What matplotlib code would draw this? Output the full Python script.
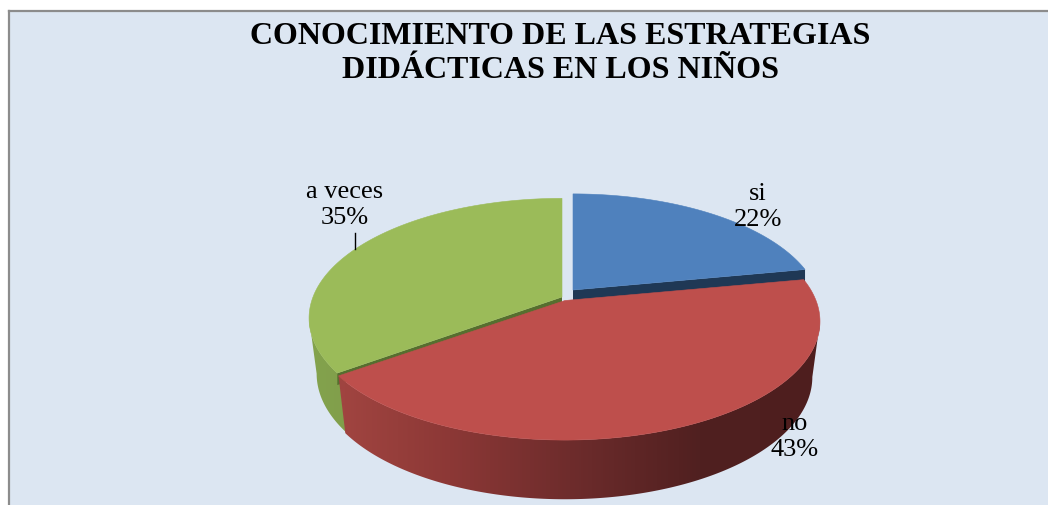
import matplotlib
matplotlib.use('Agg')
import matplotlib.pyplot as plt
from matplotlib.patches import Polygon
import numpy as np

# datos del grafico
categorias = ['si', 'no', 'a veces']
porcentajes = [22, 43, 35]
titulo = 'CONOCIMIENTO DE LAS ESTRATEGIAS\nDIDÁCTICAS EN LOS NIÑOS'

FONDO = '#DCE6F2'
BORDE = '#8C8C8C'
PERSP = 0.176
# angulo donde el borde proyectado llega a su x maxima (la pared se ve desde ahi)
T_EXT = np.arccos(-PERSP)

def punto(t, cx, cy, a, b):
    """Proyecta un angulo del circulo (desde las 12, horario) a pixeles"""
    w = 1 / (1 + PERSP * np.cos(t))
    return cx + a * np.sin(t) * w, cy - b * np.cos(t) * w

def tapa(ax, t0, t1, cx, cy, a, b, color, z):
    t = np.linspace(t0, t1, 200)
    x, y = punto(t, cx, cy, a, b)
    ax.fill(np.r_[cx, x], np.r_[cy, y], color=color, lw=0.4, zorder=z)

def corte(ax, t, cx, cy, a, b, prof, color, z):
    """Cara plana interior de la porcion"""
    x, y = punto(t, cx, cy, a, b)
    ax.fill([cx, x, x, cx], [cy, y, y + prof, cy + prof], color=color, lw=0, zorder=z)

def lateral(ax, t0, t1, cx, cy, a, b, colores_x, z):
    """Pared exterior: degradado en x recortado con la silueta"""
    t = np.linspace(t0, t1, 200)
    xs, ys = punto(t, cx, cy, a, b)
    xi, yi = punto(t, cx, cy + 55, a * 0.97, b * 1.03)
    silueta = Polygon(np.c_[np.r_[xs, xi[::-1]], np.r_[ys, yi[::-1]]],
                      closed=True, transform=ax.transData)
    pos, cols = colores_x
    cols = np.array(cols) / 255
    columnas = np.arange(0, 1048)
    img = np.stack([np.interp(columnas, pos, cols[:, k]) for k in range(3)], axis=-1)
    im = ax.imshow(img[np.newaxis, :, :], extent=(0, 1048, 506, 0), aspect='auto',
                   interpolation='bilinear', zorder=z)
    im.set_clip_path(silueta)

fracciones = np.array(porcentajes) / sum(porcentajes)
limites = np.r_[0, np.cumsum(fracciones)] * 2 * np.pi

fig = plt.figure(figsize=(10.48, 5.06), dpi=100, facecolor='white')
ax = fig.add_axes([0, 0, 1, 1])

# marco
ax.fill([9, 1048, 1048, 9], [12, 12, 506, 506], color=FONDO, lw=0, zorder=0)
ax.plot([9, 9], [506, 12], color=BORDE, lw=1.6, zorder=1)
ax.plot([9, 1048], [12, 12], color=BORDE, lw=1.6, zorder=1)

# si
corte(ax, limites[1], 573, 291, 244, 113, 60, '#1F3855', 2)
tapa(ax, limites[0], limites[1], 573, 291, 244, 113, '#4F81BD', 4)

# a veces (la pared empieza un poco antes para que no quede hueco con la roja)
corte(ax, limites[2], 562, 298, 249, 116, 12, '#566E2F', 3.5)
lateral(ax, limites[2] - 0.04, 2 * np.pi - T_EXT, 562, 298, 249, 116,
        ([309, 350], [(132, 163, 78), (128, 158, 74)]), 3)
tapa(ax, limites[2], limites[3], 562, 298, 249, 116, '#9BBB59', 4)

# no
lateral(ax, T_EXT, limites[2], 565, 301.5, 251, 115,
        ([345, 450, 570, 700, 820],
         [(160, 68, 64), (140, 56, 54), (110, 44, 44), (80, 32, 32), (78, 30, 30)]), 5)
tapa(ax, limites[1], limites[2], 565, 301.5, 251, 115, '#BE4F4C', 6)

# titulo y etiquetas
serif = 'Liberation Serif'
ax.text(560, 53.5, titulo, ha='center', va='center', fontsize=23, family=serif,
        fontweight='bold', linespacing=1.2, zorder=8)
pos_etiquetas = [(758, 207), (795, 437), (345, 205)]
for cat, pct, (x, y) in zip(categorias, porcentajes, pos_etiquetas):
    ax.text(x, y, f'{cat}\n{pct}%', ha='center', va='center', fontsize=19,
            family=serif, linespacing=1.29, color='black', zorder=8)
ax.plot([355, 355], [234, 250], color='black', lw=1, zorder=7)

ax.set_xlim(0, 1048)
ax.set_ylim(506, 0)
ax.axis('off')

fig.savefig('out.png', dpi=100, facecolor=fig.get_facecolor())
